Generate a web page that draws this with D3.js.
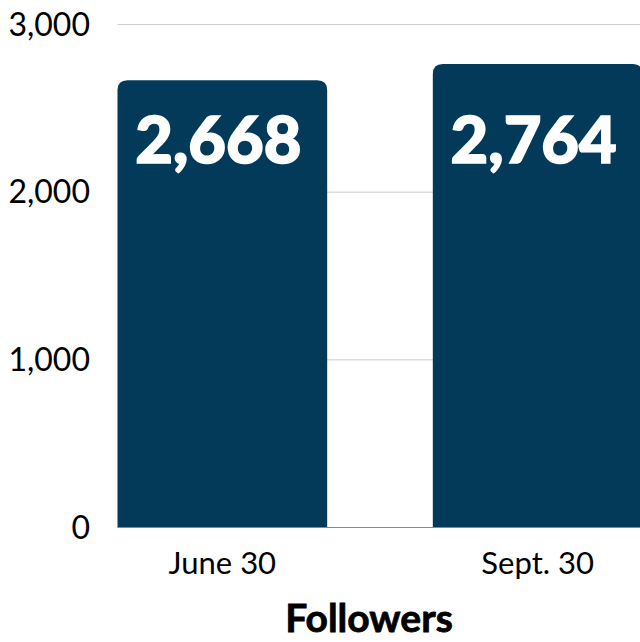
<!DOCTYPE html>
<html><head><meta charset="utf-8">
<script src="https://cdn.jsdelivr.net/npm/d3@7"></script>
<style>html,body{margin:0;padding:0;background:#fff;}svg{display:block;}</style>
</head><body>
<svg id="c" width="640" height="642"></svg>
<script>
const categories = ["June 30", "Sept. 30"];
const values = [2668, 2764];
const yTicks = [0, 1000, 2000, 3000];
const axisTitle = "Followers";

(function () {
const svg = d3.select("#c");
const W = 640, H = 642;
const plotLeft = 117.5, plotTop = 24.5, plotBottom = 527.5;
const x = d3.scaleBand().domain(categories).range([plotLeft, 642.5]).paddingInner(0.335).paddingOuter(0);
const y = d3.scaleLinear().domain([0, 3000]).range([plotBottom, plotTop]);
const fmt = d3.format(",");
const font = "Lato, 'Open Sans', sans-serif";

// gridlines
svg.append("g").selectAll("line").data(yTicks.filter(d => d > 0)).join("line")
  .attr("x1", plotLeft).attr("x2", W).attr("y1", d => y(d)).attr("y2", d => y(d))
  .attr("stroke", "#cccccc").attr("stroke-width", 1);

// y tick labels
svg.append("g").selectAll("text").data(yTicks).join("text")
  .attr("x", 90).attr("y", d => y(d) + 11)
  .attr("text-anchor", "end")
  .attr("font-family", font).attr("font-size", 32).attr("fill", "#000")
  .text(d => fmt(d));

// bars with rounded top corners
const r = 10;
function barPath(x0, w, yT, yB) {
  return `M${x0},${yB}V${yT + r}Q${x0},${yT} ${x0 + r},${yT}H${x0 + w - r}Q${x0 + w},${yT} ${x0 + w},${yT + r}V${yB}Z`;
}
svg.append("g").selectAll("path").data(categories).join("path")
  .attr("d", (c, i) => barPath(x(c), x.bandwidth(), y(values[i]), y(0)))
  .attr("fill", "#043a59");

// baseline
svg.append("line").attr("x1", plotLeft).attr("x2", W).attr("y1", y(0)).attr("y2", y(0))
  .attr("stroke", "#888").attr("stroke-width", 1);

// value labels
svg.append("g").selectAll("text").data(categories).join("text")
  .attr("x", c => x(c) + x.bandwidth() / 2 - 4).attr("y", 163)
  .attr("text-anchor", "middle")
  .attr("font-family", font).attr("font-weight", 900).attr("font-size", 65)
  .attr("fill", "#fff").attr("stroke", "#fff").attr("stroke-width", 1.6)
  .text((c, i) => fmt(values[i]));

// category labels
svg.append("g").selectAll("text").data(categories).join("text")
  .attr("x", c => x(c) + x.bandwidth() / 2).attr("y", 574)
  .attr("text-anchor", "middle")
  .attr("font-family", font).attr("font-size", 31).attr("fill", "#000")
  .text(c => c);

// axis title
svg.append("text").attr("x", 369).attr("y", 632)
  .attr("text-anchor", "middle")
  .attr("font-family", font).attr("font-weight", 700).attr("font-size", 39)
  .attr("fill", "#000").attr("stroke", "#000").attr("stroke-width", 0.8)
  .text(axisTitle);
})();
</script>
</body></html>
